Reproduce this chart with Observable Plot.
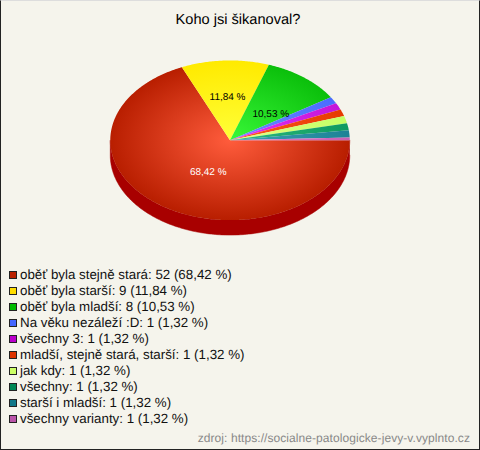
<!DOCTYPE html>
<html><head><meta charset="utf-8">
<script src="https://cdn.jsdelivr.net/npm/d3@7"></script>
<script src="https://cdn.jsdelivr.net/npm/@observablehq/plot@0.6"></script>
<style>
html,body{margin:0;padding:0;background:#f5f4ec}
#box{position:relative;width:480px;height:450px;box-sizing:border-box;border:1px solid #222;border-top-color:#ddd;background:#f5f4ec;font-family:"Liberation Sans",Arial,sans-serif;color:#111;overflow:hidden;text-rendering:geometricPrecision}
#title{position:absolute;left:-3px;top:10px;width:480px;text-align:center;font-size:14.6px;line-height:18px;color:#000}
#chart{position:absolute;left:-1px;top:39px}
#legend{position:absolute;left:8px;top:266px;font-size:13.33px;line-height:16px}
.row{height:16px;white-space:nowrap;display:flex;align-items:center}
.sw{display:inline-block;width:6px;height:6px;border:1px solid #222;margin-right:3px;flex:none}
#src{position:absolute;right:9px;top:430px;font-size:12px;line-height:14px;color:#888;letter-spacing:.07px}
svg{display:block}
</style></head><body>
<div id="box">
<div id="title"></div>
<div id="chart"></div>
<div id="legend"></div>
<div id="src">zdroj: https://socialne-patologicke-jevy-v.vyplnto.cz</div>
</div>
<script>
const titleText = "Koho jsi šikanoval?";
const categories = ["oběť byla stejně stará","oběť byla starší","oběť byla mladší","Na věku nezáleží :D","všechny 3","mladší, stejně stará, starší","jak kdy","všechny","starší i mladší","všechny varianty"];
const counts = [52,9,8,1,1,1,1,1,1,1];
const percents = ["68,42","11,84","10,53","1,32","1,32","1,32","1,32","1,32","1,32","1,32"];
const swatchColors = ["#bb2200","#ffdd00","#00bb00","#4466ff","#bb00cc","#dd3300","#ccff66","#008855","#117788","#bb55aa"];
const edgeColors = ["#b81e00","#ffea00","#0bbf0b","#4a6cff","#c414d8","#e63a00","#c4ff66","#0e9a60","#1d8296","#c860b4"];
const centerColors = ["#ff5c3c","#ffff38","#38f838","#6a8cff","#e434f8","#ff5a20","#e4ff86","#2eba80","#3da2b6","#e880d4"];

const RX = 120, RY = 80, DEPTH = 15;
const total = d3.sum(counts);
// the reference's renderer draws the thin slices near 3 o'clock slightly lower
const drawNudge = d3.scaleLinear([326.8, 341, 350.5, 355.3, 360], [0.5, 1.3, 2.3, 2.8, 0]).clamp(true);
let acc = 0;
const slices = counts.map((c, i) => {
  const a0 = acc / total * 2 * Math.PI; acc += c;
  const a1 = acc / total * 2 * Math.PI;
  return {i, a0, a1, mid: (a0 + a1) / 2};
});
const pt = (a, extra = 0) => ({px: RX * Math.cos(a), py: RY * Math.sin(a) + extra});
const warped = a => {
  const deg = a * 180 / Math.PI;
  return deg > 326 ? a + drawNudge(deg) * Math.PI / 180 : a;
};
function slicePoints(s) {
  const n = Math.max(2, Math.ceil((s.a1 - s.a0) * 90));
  const pts = [{px: 0, py: 0}];
  for (let k = 0; k <= n; k++) pts.push(pt(warped(s.a0 + (s.a1 - s.a0) * k / n)));
  pts.push({px: 0, py: 0});
  return pts;
}
const rim = [];
for (let k = 0; k <= 180; k++) rim.push(pt(k * Math.PI / 180));
for (let k = 180; k >= 0; k--) rim.push(pt(k * Math.PI / 180, DEPTH));

const labelled = [
  {s: slices[0], fill: "#fff", dx: 11, dy: -2},
  {s: slices[1], fill: "#000", dx: 0, dy: -4},
  {s: slices[2], fill: "#000", dx: 4, dy: 5}
];

const plot = Plot.plot({
  width: 480, height: 210, margin: 0,
  style: {background: "transparent"},
  x: {domain: [-230, 250], range: [0, 480], axis: null},
  y: {domain: [-100, 110], range: [0, 210], axis: null},
  marks: [
    Plot.line(rim, {x: "px", y: "py", fill: "#a80000", stroke: "#a80000", strokeWidth: 0.5}),
    ...slices.map(s => Plot.line(slicePoints(s), {x: "px", y: "py", fill: `url(#g${s.i})`, stroke: "none"})),
    ...labelled.map(({s, fill, dx, dy}) => Plot.text([pt(s.mid)], {
      x: d => d.px * 0.5, y: d => d.py * 0.5, text: () => percents[s.i] + " %",
      fill, dx, dy, fontSize: 10, fontFamily: "Liberation Sans"
    }))
  ]
});
const cx = plot.scale("x").apply(0), cy = plot.scale("y").apply(0);
const defs = d3.select(plot).insert("defs", ":first-child");
slices.forEach(s => {
  const g = defs.append("radialGradient").attr("id", "g" + s.i)
    .attr("gradientUnits", "userSpaceOnUse").attr("cx", 0).attr("cy", 0).attr("r", 1)
    .attr("gradientTransform", `translate(${cx},${cy}) scale(${RX},${RY})`);
  g.append("stop").attr("offset", 0).attr("stop-color", centerColors[s.i]);
  g.append("stop").attr("offset", 1).attr("stop-color", edgeColors[s.i]);
});
document.getElementById("chart").append(plot);
document.getElementById("title").textContent = titleText;

const legend = d3.select("#legend");
categories.forEach((c, i) => {
  const r = legend.append("div").attr("class", "row");
  r.append("span").attr("class", "sw").style("background", swatchColors[i]);
  r.append("span").text(`${c}: ${counts[i]} (${percents[i]} %)`);
});
</script>
</body></html>
